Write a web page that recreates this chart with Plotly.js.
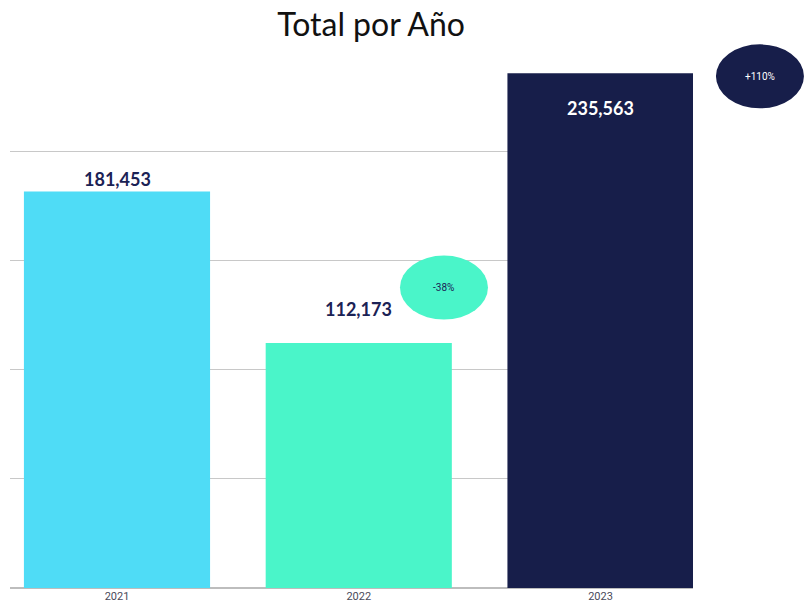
<!DOCTYPE html>
<html>
<head>
<meta charset="utf-8">
<script src="https://cdn.plot.ly/plotly-3.0.1.min.js"></script>
<style>html,body{margin:0;padding:0;background:#fff;}#chart{width:805px;height:602px;}</style>
</head>
<body>
<div id="chart"></div>
<script>
// Data
const years = ["2021", "2022", "2023"];
const totals = [181453, 112173, 235563];
const changeLabels = ["-38%", "+110%"];

// Styles
const barColors = ["#4FDCF6", "#4AF5C9", "#171E4A"];
const labelColors = ["#1B2255", "#1B2255", "#FFFFFF"];
const labelShift = [13, 34, -35];
const bubbleFill = ["#4AF5C9", "#171E4A"];
const bubbleText = ["#1B2255", "#FFFFFF"];
const bubblePos = [[0.6354, 0.569], [1.098, 0.969]];

const trace = {
  type: "bar",
  x: years.map((_, i) => i),
  y: totals,
  marker: { color: barColors },
  width: 0.77,
  hoverinfo: "skip"
};

const annotations = totals.map((v, i) => ({
  x: i, y: v, xref: "x", yref: "y",
  text: "<b>" + v.toLocaleString("en-US") + "</b>",
  showarrow: false, yshift: labelShift[i],
  font: { family: "Lato, 'Noto Sans', sans-serif", size: 18, color: labelColors[i] }
}));

const shapes = [];
changeLabels.forEach((t, i) => {
  shapes.push({
    type: "circle", xref: "paper", yref: "paper",
    xsizemode: "pixel", ysizemode: "pixel",
    xanchor: bubblePos[i][0], yanchor: bubblePos[i][1],
    x0: -44, x1: 44, y0: -32, y1: 32,
    fillcolor: bubbleFill[i], line: { width: 0 }, layer: "above"
  });
  annotations.push({
    x: bubblePos[i][0], y: bubblePos[i][1], xref: "paper", yref: "paper",
    xanchor: "center", yanchor: "middle",
    text: t, showarrow: false,
    font: { family: "Roboto, sans-serif", size: 10, color: bubbleText[i] }
  });
});

const layout = {
  width: 805, height: 602,
  margin: { l: 10, r: 112, t: 60, b: 14 },
  paper_bgcolor: "#ffffff", plot_bgcolor: "#ffffff",
  title: {
    text: "Total por Año",
    x: 0.5286, xref: "paper", xanchor: "center", y: 0.958, yanchor: "middle",
    font: { family: "Lato, 'Noto Sans', sans-serif", size: 32, color: "#111111" }
  },
  xaxis: {
    range: [-0.4426, 2.3826],
    tickvals: [0, 1, 2], ticktext: years,
    showgrid: false, showline: false, zeroline: false,
    ticks: "", ticklen: 0,
    tickfont: { family: "'Liberation Sans Narrow', Roboto, sans-serif", size: 11, color: "#4A4A5A" }
  },
  yaxis: {
    range: [0, 241648],
    tickvals: [50000, 100000, 150000, 200000],
    showticklabels: false,
    showgrid: true, gridcolor: "#C8C8C8", gridwidth: 1,
    zeroline: true, zerolinecolor: "#BDBDBD", zerolinewidth: 2,
    showline: false
  },
  showlegend: false,
  bargap: 0.2,
  annotations: annotations,
  shapes: shapes
};

Plotly.newPlot("chart", [trace], layout, { displayModeBar: false, staticPlot: true });
</script>
</body>
</html>
